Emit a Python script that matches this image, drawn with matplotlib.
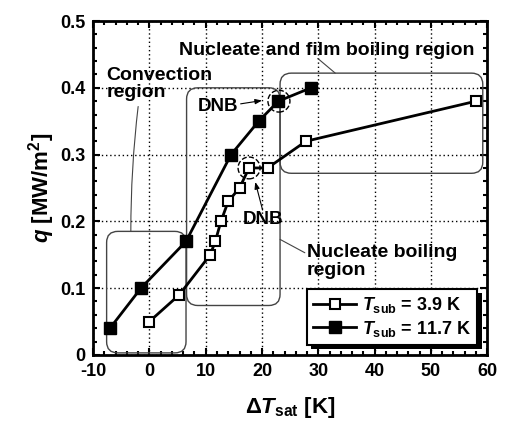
import matplotlib
matplotlib.use("Agg")
import matplotlib.pyplot as plt
from matplotlib.patches import FancyBboxPatch, Ellipse
from matplotlib.ticker import MultipleLocator
import matplotlib.patheffects as pe

# Data
dt_39 = [0.0, 5.3, 10.8, 11.7, 12.7, 14.0, 16.0, 17.7, 21.0, 27.8, 58.0]
q_39 = [0.05, 0.09, 0.15, 0.17, 0.20, 0.23, 0.25, 0.28, 0.28, 0.32, 0.38]
dt_117 = [-7.0, -1.5, 6.5, 14.5, 19.4, 22.9, 28.7]
q_117 = [0.04, 0.10, 0.17, 0.30, 0.35, 0.38, 0.40]
labels = [r"$T_{\rm sub}$ = 3.9 K", r"$T_{\rm sub}$ = 11.7 K"]
y_ticks = [0, 0.1, 0.2, 0.3, 0.4, 0.5]
y_ticklabels = ["0", "0.1", "0.2", "0.3", "0.4", "0.5"]

plt.rcParams["font.family"] = ["Liberation Sans", "DejaVu Sans"]
plt.rcParams["font.weight"] = "bold"
plt.rcParams["axes.unicode_minus"] = False
plt.rcParams["mathtext.fontset"] = "custom"
plt.rcParams["mathtext.rm"] = "Liberation Sans:bold"
plt.rcParams["mathtext.bf"] = "Liberation Sans:bold"
plt.rcParams["mathtext.it"] = "Liberation Sans:italic:bold"

fig = plt.figure(figsize=(5.06, 4.21), dpi=100)
ax = fig.add_axes([0.184, 0.157, 0.779, 0.793])

ax.plot(dt_39, q_39, "-s", color="black", lw=2, ms=7.5, mfc="white", mec="black", mew=1.5,
        label=labels[0], zorder=5)
ax.plot(dt_117, q_117, "-s", color="black", lw=2, ms=9, mfc="black", label=labels[1], zorder=5)

ax.set_xlim(-10, 60)
ax.set_ylim(0, 0.5)
ax.xaxis.set_major_locator(MultipleLocator(10))
ax.xaxis.set_minor_locator(MultipleLocator(2))
ax.yaxis.set_minor_locator(MultipleLocator(0.02))
ax.set_yticks(y_ticks)
ax.set_yticklabels(y_ticklabels)
ax.tick_params(which="both", direction="in", top=True, right=True, width=1.5)
ax.tick_params(which="major", length=5, labelsize=13, pad=5.5)
ax.tick_params(which="minor", length=3)
for lab in ax.get_xticklabels() + ax.get_yticklabels():
    lab.set_fontweight("bold")
for s in ax.spines.values():
    s.set_linewidth(2)
ax.grid(True, which="major", linestyle=(0, (1, 2)), color="black", lw=1)

ax.set_xlabel(r"$\Delta T_{\rm sat}$ [K]", fontsize=16, fontweight="bold", labelpad=11)
ax.set_ylabel(r"$q$ [MW/m$^2$]", fontsize=16, fontweight="bold", labelpad=2)

# rounded region boxes
asp = (0.5 / 337) / (70 / 394)
boxes = [(-7.6, 0.003, 14.1, 0.182), (6.6, 0.074, 16.6, 0.326), (23.2, 0.272, 36.0, 0.150)]
for x0, y0, w, h in boxes:
    ax.add_patch(FancyBboxPatch((x0, y0), w, h, boxstyle="round,pad=0,rounding_size=2",
                                mutation_aspect=asp, fc="none", ec="#444444", lw=1, zorder=3))

# DNB circles
for cx, cy in [(23.0, 0.38), (17.7, 0.28)]:
    ax.add_patch(Ellipse((cx, cy), 22 / 5.63, 22 / 674, fc="none", ec="black",
                         ls="--", lw=1, zorder=6))

ax.text(12.2, 0.372, "DNB", fontsize=13.5, fontweight="bold", ha="center", va="center")
ax.annotate("", xy=(20.0, 0.381), xytext=(16.2, 0.376),
            arrowprops=dict(arrowstyle="-|>,head_length=0.4,head_width=0.15", lw=0.8,
                            color="black", shrinkA=0, shrinkB=0))
ax.text(20.1, 0.203, "DNB", fontsize=13.5, fontweight="bold", ha="center", va="center")
ax.annotate("", xy=(18.8, 0.259), xytext=(20.1, 0.217),
            arrowprops=dict(arrowstyle="-|>,head_length=0.4,head_width=0.15", lw=0.8,
                            color="black", shrinkA=0, shrinkB=0))

ax.text(31.5, 0.456, "Nucleate and film boiling region", fontsize=14, fontweight="bold",
        ha="center", va="center")
ax.annotate("", xy=(33.0, 0.422), xytext=(29.9, 0.444),
            arrowprops=dict(arrowstyle="-", lw=0.8, color="#444444", shrinkA=0, shrinkB=0))
ax.text(-7.6, 0.405, "Convection\nregion", fontsize=14, fontweight="bold", ha="left",
        va="center", linespacing=1.0)
ax.annotate("", xy=(-3.3, 0.185), xytext=(-2.0, 0.372),
            arrowprops=dict(arrowstyle="-", lw=0.8, color="#444444", shrinkA=0, shrinkB=0,
                            connectionstyle="arc3,rad=0.03"))
ax.text(28.0, 0.14, "Nucleate boiling\nregion", fontsize=14, fontweight="bold", ha="left",
        va="center", linespacing=1.05)
ax.annotate("", xy=(23.2, 0.173), xytext=(27.6, 0.153),
            arrowprops=dict(arrowstyle="-", lw=0.8, color="#444444", shrinkA=0, shrinkB=0))

leg = ax.legend(loc="lower right", bbox_to_anchor=(0.975, 0.03), fontsize=13,
                frameon=True, fancybox=False, edgecolor="black", framealpha=1,
                handlelength=2.4, borderpad=0.35, labelspacing=0.2, handletextpad=0.3,
                borderaxespad=0)
frame = leg.get_frame()
frame.set_linewidth(1.5)
frame.set_path_effects([pe.SimplePatchShadow(offset=(3, -3), shadow_rgbFace="black", alpha=1),
                        pe.Normal()])
leg.set_zorder(10)

fig.savefig("out.png", dpi=100)
